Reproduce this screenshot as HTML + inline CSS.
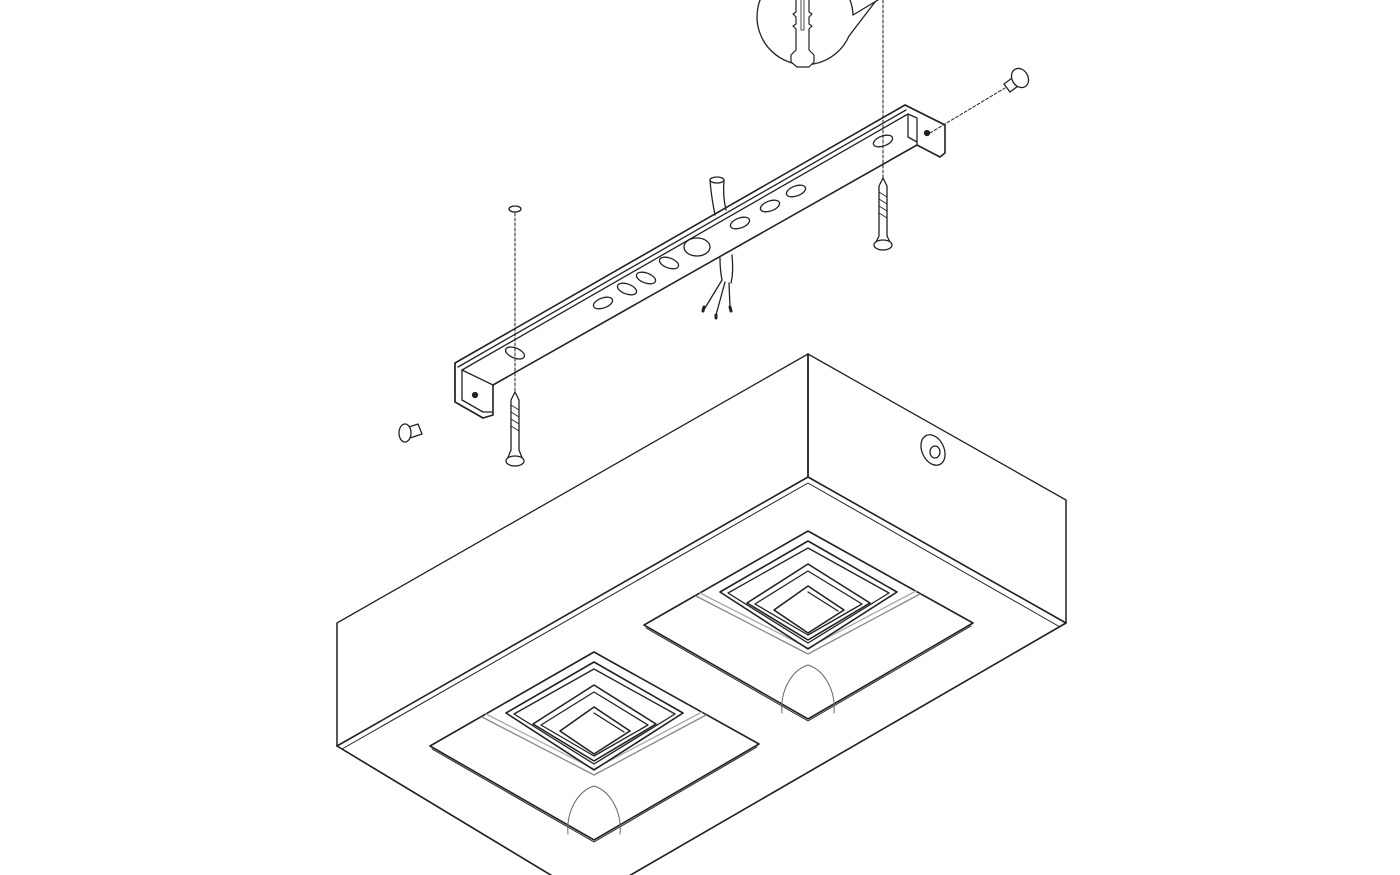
<!DOCTYPE html>
<html><head><meta charset="utf-8"><style>html,body{margin:0;padding:0;background:#fff}svg{display:block}</style></head>
<body>
<svg width="1400" height="875" viewBox="0 0 1400 875" xmlns="http://www.w3.org/2000/svg" fill="none" stroke="#222" stroke-width="1.3" stroke-linejoin="round" stroke-linecap="round">
<defs>
<g id="lens">
  <path d="M808,531 L973,623 L808,719 L644,625 Z" fill="#fff" stroke-width="1.6"/>
  <path d="M646,628 L808,721 L971,626" stroke-width="1"/>
  <path d="M696,596 L808,654 L920,594" stroke="#888"/>
  <path d="M700,593 L808,648 L916,591" stroke="#aaa"/>
  <path d="M808,541 L897,592 L808,649 L720,592 Z" stroke-width="1.6"/>
  <path d="M808,548 L889,593 L808,643 L728,593 Z"/>
  <path d="M808,564 L870,603 L808,640 L747,603 Z" stroke-width="1.6"/>
  <path d="M808,571 L862,604 L808,635 L755,604 Z"/>
  <path d="M808,586 L844,610 L808,633 L774,610 Z" stroke-width="1.6"/>
  <path d="M808,592 L838,611" />
  <path d="M782,713 C780,690 792,670 808,665 C824,670 836,690 834,713" stroke="#666" stroke-width="1"/>
</g>
</defs>

<path d="M337,623 L808,354 L1066,500 L1066,623 L622,880 L559,880 L337,746 Z" fill="#fff"/>
<path d="M808,354 L808,477" stroke-width="1.8"/>
<path d="M337,746 L808,477 L1066,623" stroke-width="1.6"/>
<path d="M342,749 L808,483 L1060,627" stroke-width="1"/>
<path d="M337,623 L337,746 M1066,500 L1066,623"/>
<path d="M337,746 L559,880 M1066,623 L622,880" stroke-width="1.6"/>
<ellipse cx="933" cy="450" rx="11" ry="16" transform="rotate(-25 933 450)"/>
<ellipse cx="935" cy="452" rx="5" ry="6"/>

<use href="#lens"/>
<use href="#lens" transform="translate(-214,121)"/>

<path d="M455,363 L905,105 L945,125 L945,153 L940,157 L917,145 L493,385 L493,415 L483,418 L455,402 Z" fill="#fff" stroke-width="1.6"/>
<path d="M458,367 L906,110"/>
<path d="M462,370 L908,114 L917,118 L917,145"/>
<path d="M462,370 L493,385"/>
<path d="M455,363 L455,402 M462,370 L462,400 L483,412 L493,412"/>
<path d="M908,114 L908,137 L917,142 M905,105 L945,125"/>
<circle cx="475" cy="395" r="2.5" fill="#222"/>
<circle cx="927" cy="133" r="2.5" fill="#222"/>
<g fill="#fff">
<ellipse cx="515" cy="353" rx="10" ry="5" transform="rotate(22 515 353)"/>
<ellipse cx="603" cy="303" rx="10" ry="5" transform="rotate(-20 603 303)"/>
<ellipse cx="627" cy="289" rx="10" ry="5" transform="rotate(20 627 289)"/>
<ellipse cx="646" cy="278" rx="10" ry="5" transform="rotate(20 646 278)"/>
<ellipse cx="669" cy="263" rx="10" ry="5" transform="rotate(20 669 263)"/>
<ellipse cx="697" cy="247" rx="13" ry="9"/>
<ellipse cx="740" cy="223" rx="10" ry="5" transform="rotate(-20 740 223)"/>
<ellipse cx="770" cy="206" rx="10" ry="5" transform="rotate(-20 770 206)"/>
<ellipse cx="796" cy="191" rx="10" ry="5" transform="rotate(-20 796 191)"/>
<ellipse cx="883" cy="141" rx="10" ry="5" transform="rotate(-20 883 141)"/>
</g>
<path d="M710,180 C711,195 713,205 715,215 M724,180 C723,192 724,202 726,210"/>
<ellipse cx="717" cy="180" rx="7" ry="3"/>
<path d="M720,258 C720,270 721,275 722,280 M732,255 C733,268 733,275 731,283"/>
<path d="M722,280 L705,308 M725,282 L716,315 M729,283 L730,307"/>
<path d="M704,307 L703,311 M716,315 L716,318 M730,307 L731,311" stroke-width="3"/>

<g stroke-dasharray="3,2" stroke-width="1">
<path d="M515,213 L515,395"/>
<path d="M883,0 L883,190"/>
<path d="M930,133 L1005,88"/>
</g>
<ellipse cx="515" cy="209" rx="6" ry="3"/>
<g fill="#fff">
<path d="M511,400 L515,392 L519,400 L519,450 L523,460 L507,460 L511,450 Z"/>
<ellipse cx="515" cy="461" rx="9" ry="5"/>
<path d="M879,186 L883,178 L887,186 L887,236 L891,244 L875,244 L879,236 Z"/>
<ellipse cx="883" cy="245" rx="9" ry="5"/>
<path d="M1004,84 L1012,78 L1018,86 L1010,92 Z"/>
<ellipse cx="1020" cy="78" rx="8" ry="10" transform="rotate(-30 1020 78)"/>
<path d="M400,430 L418,424 L422,434 L404,440 Z"/>
<ellipse cx="405" cy="433" rx="6" ry="9"/>
</g>
<path d="M511,405 L519,410 M511,412 L519,417 M511,419 L519,424 M511,426 L519,431" stroke-width="0.8"/>
<path d="M879,192 L887,197 M879,199 L887,204 M879,206 L887,211 M879,213 L887,218" stroke-width="0.8"/>

<!-- inset bubble -->
<path d="M853,15 A48,48 0 1 0 849,36 L875,2" fill="#fff" stroke-width="1.3"/>
<path d="M853,15 L878,0" stroke-width="1.3"/>
<path d="M796,0 L796,12 L793,14 L796,17 L796,24 L793,26 L796,29 L796,50 L791,55 L791,62 L797,67 L809,67 L814,62 L814,55 L809,50 L809,29 L812,26 L809,24 L809,17 L812,14 L809,12 L809,0" fill="#fff" stroke-width="1.2"/>
<path d="M801,0 L801,30 L804,30 L804,0" stroke-width="0.8"/>
</svg>
</body></html>
